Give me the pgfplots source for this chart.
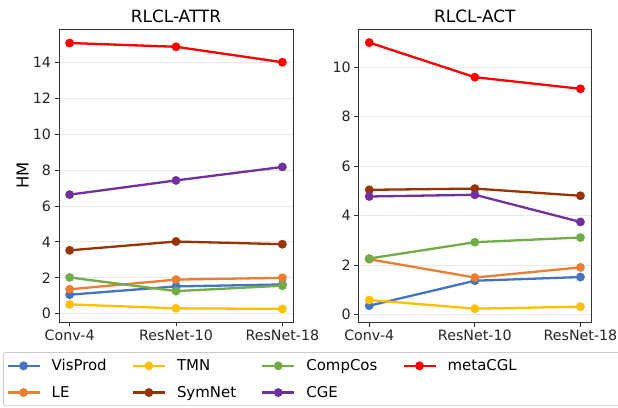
\documentclass[border=0pt]{standalone}
\usepackage{fontspec}
\setmainfont{DejaVu Sans}
\usepackage{pgfplots}
\pgfplotsset{compat=1.18}
\definecolor{cVis}{HTML}{4472C4}
\definecolor{cLE}{HTML}{ED7D31}
\definecolor{cTMN}{HTML}{FFC000}
\definecolor{cSym}{HTML}{993300}
\definecolor{cComp}{HTML}{70AD47}
\definecolor{cCGE}{HTML}{7030A0}
\definecolor{cMeta}{HTML}{FF0000}
\pgfplotsset{
  myax/.style={
    scale only axis,
    height=293bp,
    xmin=-0.1, xmax=2.1,
    xtick={0,1,2},
    xticklabels={Conv-4,ResNet-10,ResNet-18},
    tick align=outside,
    major tick length=4.5bp,
    xtick pos=bottom, ytick pos=left,
    ymajorgrids=true,
    grid style={color=black!9, line width=0.8bp},
    axis line style={color=black!80, line width=0.8bp},
    tick style={color=black!80, line width=0.8bp},
    /pgf/number format/assume math mode=true,
    tick label style={font=\fontsize{14.3}{16}\selectfont, color=black!85},
    title style={font=\fontsize{17}{19}\selectfont, yshift=-3bp},
    every axis plot/.append style={line width=2.3bp, mark=*, mark size=3.2bp},
    legend image code/.code={\draw[mark repeat=2,mark phase=2,#1] plot coordinates {(0bp,0bp) (16bp,0bp) (32bp,0bp)};},
  }
}
\begin{document}
\begin{tikzpicture}
\path[use as bounding box] (0,0) rectangle (618bp,408bp);
\begin{axis}[myax, at={(59bp,86bp)}, anchor=south west, width=234bp,
  ymin=-0.46, ymax=15.85, ytick={0,2,...,14},
  title={RLCL-ATTR}, ylabel={HM},
  every axis y label/.style={at={(axis description cs:-0.155,0.5)}, rotate=90, anchor=center, font=\fontsize{16.5}{18}\selectfont}]
\addplot[color=cVis, mark options={fill=cVis}] coordinates {(0,1.06) (1,1.52) (2,1.63)};
\addplot[color=cLE, mark options={fill=cLE}] coordinates {(0,1.36) (1,1.90) (2,2.00)};
\addplot[color=cTMN, mark options={fill=cTMN}] coordinates {(0,0.52) (1,0.30) (2,0.27)};
\addplot[color=cSym, mark options={fill=cSym}] coordinates {(0,3.53) (1,4.02) (2,3.87)};
\addplot[color=cComp, mark options={fill=cComp}] coordinates {(0,2.02) (1,1.26) (2,1.56)};
\addplot[color=cCGE, mark options={fill=cCGE}] coordinates {(0,6.63) (1,7.42) (2,8.17)};
\addplot[color=cMeta, mark options={fill=cMeta}] coordinates {(0,15.07) (1,14.86) (2,14.00)};
\end{axis}
\begin{axis}[myax, at={(358.7bp,86bp)}, anchor=south west, width=232.3bp,
  ymin=-0.31, ymax=11.55, ytick={0,2,...,10},
  title={RLCL-ACT},
  legend columns=4,
  legend cell align=left,
  legend style={at={(-1.5312,-0.1024)}, anchor=north west,
    draw=black!20, rounded corners=2bp, line width=0.8bp,
    font=\fontsize{15}{17}\selectfont,
    inner xsep=3bp, inner ysep=5bp,
    row sep=10bp,
    /tikz/every odd column/.append style={column sep=9bp},
    /tikz/every even column/.append style={column sep=23bp}}]
\addplot[forget plot, color=cVis, mark options={fill=cVis}] coordinates {(0,0.35) (1,1.36) (2,1.51)};
\addplot[forget plot, color=cLE, mark options={fill=cLE}] coordinates {(0,2.23) (1,1.49) (2,1.90)};
\addplot[forget plot, color=cTMN, mark options={fill=cTMN}] coordinates {(0,0.58) (1,0.23) (2,0.31)};
\addplot[forget plot, color=cSym, mark options={fill=cSym}] coordinates {(0,5.04) (1,5.09) (2,4.80)};
\addplot[forget plot, color=cComp, mark options={fill=cComp}] coordinates {(0,2.26) (1,2.92) (2,3.11)};
\addplot[forget plot, color=cCGE, mark options={fill=cCGE}] coordinates {(0,4.77) (1,4.84) (2,3.74)};
\addplot[forget plot, color=cMeta, mark options={fill=cMeta}] coordinates {(0,11.00) (1,9.60) (2,9.13)};
\addlegendimage{color=cVis, line width=2.3bp, mark=*, mark size=3.2bp, mark options={fill=cVis}}
\addlegendentry{VisProd}
\addlegendimage{color=cTMN, line width=2.3bp, mark=*, mark size=3.2bp, mark options={fill=cTMN}}
\addlegendentry{TMN}
\addlegendimage{color=cComp, line width=2.3bp, mark=*, mark size=3.2bp, mark options={fill=cComp}}
\addlegendentry{CompCos}
\addlegendimage{color=cMeta, line width=2.3bp, mark=*, mark size=3.2bp, mark options={fill=cMeta}}
\addlegendentry{\makebox[170bp][l]{metaCGL}}
\addlegendimage{color=cLE, line width=2.3bp, mark=*, mark size=3.2bp, mark options={fill=cLE}}
\addlegendentry{LE}
\addlegendimage{color=cSym, line width=2.3bp, mark=*, mark size=3.2bp, mark options={fill=cSym}}
\addlegendentry{SymNet}
\addlegendimage{color=cCGE, line width=2.3bp, mark=*, mark size=3.2bp, mark options={fill=cCGE}}
\addlegendentry{CGE}
\end{axis}
\end{tikzpicture}
\end{document}
